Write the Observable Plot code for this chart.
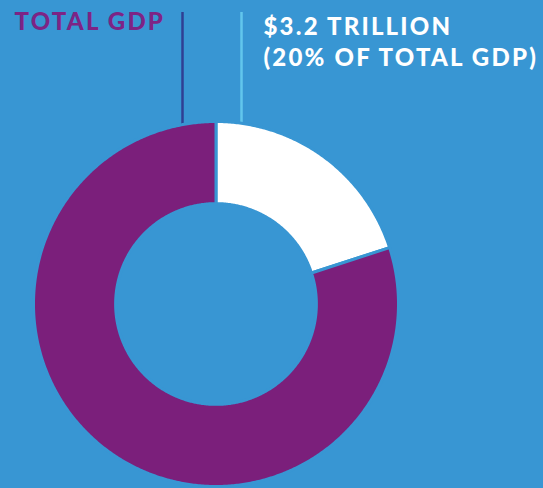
<!DOCTYPE html>
<html>
<head>
<meta charset="utf-8">
<script src="https://cdn.jsdelivr.net/npm/d3@7"></script>
<script src="https://cdn.jsdelivr.net/npm/@observablehq/plot@0.6"></script>
<style>
  html, body { margin: 0; padding: 0; background: #3896d3; }
  #chart svg { display: block; }
  #chart svg text { letter-spacing: 2.2px; }
</style>
</head>
<body>
<div id="chart"></div>
<script>
// ---- data ----
const categories = ["$3.2 trillion", "Rest of total GDP"];
const shares = [20, 80];              // percent of total GDP
const titleLabel = ["TOTAL GDP"];
const valueLabel = ["$3.2 TRILLION\n(20% OF TOTAL GDP)"];

// ---- layout ----
const W = 543, H = 488;
const CX = 215.5, CY = 303.5, R = 182.5;
const INNER = 0.55;
const ux = px => (px - CX) / R;
const uy = py => (CY - py) / R;

const BG = "#3896d3";
const PURPLE = "#7b1f7b";

// build slice outlines from the shares (clockwise from 12 o'clock)
const total = d3.sum(shares);
const pts = [];
let acc = 0;
categories.forEach((c, i) => {
  const a0 = acc / total * 2 * Math.PI;
  acc += shares[i];
  const a1 = acc / total * 2 * Math.PI;
  const n = Math.max(8, Math.ceil((a1 - a0) / (Math.PI / 360)));
  const ring = [];
  for (let k = 0; k <= n; k++) { const a = a0 + (a1 - a0) * k / n; ring.push([Math.sin(a), Math.cos(a)]); }
  for (let k = n; k >= 0; k--) { const a = a0 + (a1 - a0) * k / n; ring.push([INNER * Math.sin(a), INNER * Math.cos(a)]); }
  ring.push(ring[0]);
  ring.forEach(([x, y]) => pts.push({category: c, x, y}));
});

const leaders = [
  {x: ux(182), y1: uy(12), y2: uy(128), color: "#2f3f93"},
  {x: ux(241), y1: uy(12), y2: uy(128), color: "#62c6ec"}
];

const chart = Plot.plot({
  width: W, height: H,
  margin: 0,
  x: {domain: [ux(0), ux(W)], axis: null},
  y: {domain: [uy(H), uy(0)], axis: null},
  color: {domain: categories, range: ["#ffffff", PURPLE]},
  style: {background: BG, overflow: "visible"},
  marks: [
    Plot.ruleX(leaders, {x: "x", y1: "y1", y2: "y2", stroke: "color", strokeWidth: 2.5}),
    Plot.line(pts, {x: "x", y: "y", z: "category", fill: "category", stroke: BG, strokeWidth: 3, curve: "linear"}),
    Plot.text(titleLabel, {x: ux(14), y: uy(12), text: d => d, textAnchor: "start", lineAnchor: "top",
      fill: "#7d2485", fontSize: 24, fontWeight: 900, fontFamily: "Lato"}),
    Plot.text(valueLabel, {x: ux(263), y: uy(13), text: d => d, textAnchor: "start", lineAnchor: "top",
      fill: "#ffffff", fontSize: 24, fontWeight: 900, fontFamily: "Lato", lineHeight: 1.27})
  ]
});
chart.querySelectorAll("text").forEach(t => t.setAttribute("letter-spacing", "2.2"));
document.getElementById("chart").appendChild(chart);
</script>
</body>
</html>
